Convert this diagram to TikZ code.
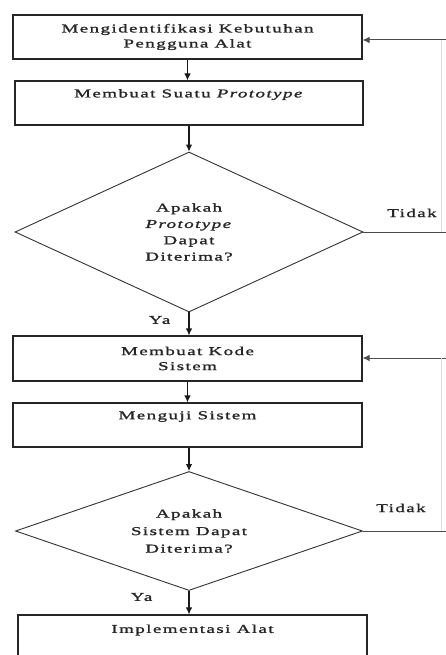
\documentclass[tikz,border=0pt]{standalone}
\usepackage{fontspec}
\setmainfont[FakeStretch=1.58,LetterSpace=12,FakeBold=1.3]{Liberation Serif}
\usetikzlibrary{shapes.geometric,arrows.meta}
\begin{document}
\begin{tikzpicture}[x=1pt,y=-1pt,
  every node/.style={font=\fontsize{12}{15}\selectfont, text=black!85},
  procbox/.style={draw=black!85, line width=1.1pt, rectangle, minimum width=349pt, inner sep=0pt, align=center},
  decide/.style={draw=black!80, line width=0.9pt, diamond, aspect=2.2, inner sep=0pt, align=center},
  flow/.style={draw=black!90, line width=1.1pt, -{Latex[length=7pt,width=6.5pt]}},
  back/.style={draw=black!70, line width=1pt},
  lbl/.style={inner sep=0pt}
]
\useasboundingbox (0,0) rectangle (446,655);
\fill[white] (0,0) rectangle (446,655);

\node[procbox, minimum height=44pt] (b1) at (187.5,37) {Mengidentifikasi Kebutuhan\\Pengguna Alat};
\node[procbox, minimum width=348pt, minimum height=44pt] (b2) at (189,103) {Membuat Suatu \textit{Prototype}\\\strut};
\node[decide, minimum width=348pt, minimum height=160pt, font=\fontsize{12}{16.3}\selectfont] (d1) at (189,232) {Apakah\\\textit{Prototype}\\Dapat\\Diterima?};
\node[procbox, minimum height=45pt] (b3) at (187.5,358.5) {Membuat Kode\\Sistem};
\node[procbox, minimum height=44pt] (b4) at (187.5,425) {Menguji Sistem\\\strut};
\node[decide, minimum width=347pt, minimum height=119pt, font=\fontsize{12}{17.5}\selectfont] (d2) at (189,531) {Apakah\\Sistem Dapat\\Diterima?};
\node[procbox, minimum height=47pt] (b5) at (192.5,638.5) {Implementasi Alat\\\strut};
\node[lbl] (t1) at (412,213) {Tidak};
\node[lbl] (t2) at (401,508) {Tidak};
\node[lbl] (y1) at (159.5,320) {Ya};
\node[lbl] (y2) at (141.5,597) {Ya};

\draw[flow] (b1.south) -- (b1.south |- b2.north);
\draw[flow] (b2.south -| d1.north) -- (d1.north);
\draw[flow] (d1.south) -- (d1.south |- b3.north);
\draw[flow] (b3.south) -- (b3.south |- b4.north);
\draw[flow] (b4.south -| d2.north) -- (d2.north);
\draw[flow] (d2.south) -- (d2.south |- b5.north);

\coordinate (r1a) at (446,232);
\coordinate (r1b) at (446,40);
\coordinate (r2a) at (446,531);
\coordinate (r2b) at (446,358);
\coordinate (v1a) at (441,40);
\coordinate (v1b) at (441,232);
\coordinate (v2a) at (441,358);
\coordinate (v2b) at (441,531);

\draw[back] (d1.east) -- (r1a);
\draw[back] (d2.east) -- (r2a);
\draw[back, -{Latex[length=7pt,width=6.5pt]}] (r1b) -- (b1.east |- r1b);
\draw[back, -{Latex[length=7pt,width=6.5pt]}] (r2b) -- (b3.east |- r2b);
\draw[black!12, line width=0.6pt] (v1a) -- (v1b);
\draw[black!12, line width=0.6pt] (v2a) -- (v2b);
\end{tikzpicture}
\end{document}
